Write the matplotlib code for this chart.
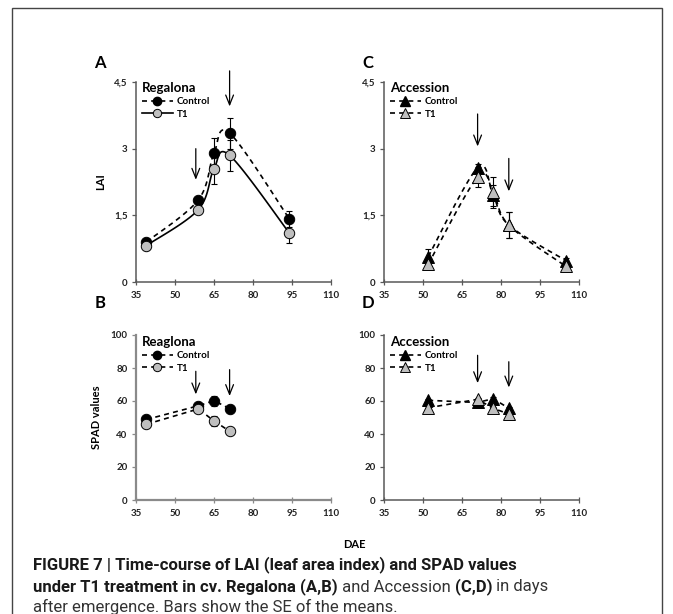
import matplotlib
matplotlib.use("Agg")
import matplotlib.pyplot as plt
import numpy as np
from matplotlib.lines import Line2D
from matplotlib.patches import Rectangle

W, H = 673, 614
DPI = 100

# ---- data -------------------------------------------------------------
# Regalona, LAI
reg_lai_dae = [39, 59, 65, 71, 94]
reg_lai_ctrl = [0.90, 1.85, 2.90, 3.35, 1.42]
reg_lai_ctrl_se = [0.06, 0.06, 0.35, 0.35, 0.18]
reg_lai_t1 = [0.82, 1.63, 2.55, 2.85, 1.10]
reg_lai_t1_se = [0.06, 0.05, 0.35, 0.35, 0.22]
reg_lai_arrows = [(58, 3.0, 2.3), (71, 4.75, 3.95)]

# Accession, LAI
acc_lai_dae = [52, 71, 77, 83, 105]
acc_lai_ctrl = [0.57, 2.57, 1.95, 1.28, 0.48]
acc_lai_ctrl_se = [0.18, 0.09, 0.24, 0.29, 0.07]
acc_lai_t1 = [0.40, 2.36, 2.02, 1.28, 0.35]
acc_lai_t1_se = [0.10, 0.23, 0.35, 0.29, 0.05]
acc_lai_arrows = [(71, 3.78, 3.05), (83, 2.78, 2.04)]

# Regalona, SPAD
reg_spad_dae = [39, 59, 65, 71]
reg_spad_ctrl = [48.8, 57.1, 60.2, 55.4]
reg_spad_ctrl_se = [1.0, 1.0, 3.0, 1.0]
reg_spad_t1 = [45.9, 55.2, 47.9, 41.7]
reg_spad_t1_se = [1.0, 1.0, 3.0, 1.0]
reg_spad_arrows = [(58, 78, 64), (71, 79, 63)]

# Accession, SPAD
acc_spad_dae = [52, 71, 77, 83]
acc_spad_ctrl = [60.4, 59.1, 61.4, 55.6]
acc_spad_ctrl_se = [1.0, 1.0, 1.0, 1.0]
acc_spad_t1 = [55.9, 61.0, 55.6, 52.1]
acc_spad_t1_se = [1.0, 1.0, 1.0, 1.0]
acc_spad_arrows = [(71, 87.7, 70.8), (83, 83.8, 68.2)]

x_ticks = [35, 50, 65, 80, 95, 110]
lai_ticks = [0, 1.5, 3, 4.5]
lai_ticklabels = ["0", "1,5", "3", "4,5"]
spad_ticks = [0, 20, 40, 60, 80, 100]

GREY = "#bfbfbf"
AXC = "#595959"
TICK_FONT = ["Lato", "DejaVu Sans"]


def smooth(x, y, n=30):
    """Catmull-Rom style smoothed polyline through the points."""
    x = np.asarray(x, float)
    y = np.asarray(y, float)
    px = np.concatenate([[x[0]], x, [x[-1]]])
    py = np.concatenate([[y[0]], y, [y[-1]]])
    xs, ys = [], []
    t = np.linspace(0, 1, n)
    for i in range(1, len(px) - 2):
        p0x, p1x, p2x, p3x = px[i - 1], px[i], px[i + 1], px[i + 2]
        p0y, p1y, p2y, p3y = py[i - 1], py[i], py[i + 1], py[i + 2]
        c1x = p1x + (p2x - p0x) / 6
        c1y = p1y + (p2y - p0y) / 6
        c2x = p2x - (p3x - p1x) / 6
        c2y = p2y - (p3y - p1y) / 6
        bx = (1 - t) ** 3 * p1x + 3 * (1 - t) ** 2 * t * c1x + 3 * (1 - t) * t ** 2 * c2x + t ** 3 * p2x
        by = (1 - t) ** 3 * p1y + 3 * (1 - t) ** 2 * t * c1y + 3 * (1 - t) * t ** 2 * c2y + t ** 3 * p2y
        xs.append(bx)
        ys.append(by)
    return np.concatenate(xs), np.concatenate(ys)


def px_axes(fig, left, right, top, bottom):
    return fig.add_axes([left / W, 1 - bottom / H, (right - left) / W, (bottom - top) / H])


def style_axes(ax, ylim, yticks, ylabels=None, spine_color=AXC, spine_w=1.1):
    ax.set_xlim(35, 110)
    ax.set_ylim(*ylim)
    for s in ("top", "right"):
        ax.spines[s].set_visible(False)
    for s in ("left", "bottom"):
        ax.spines[s].set_color(spine_color)
        ax.spines[s].set_linewidth(spine_w)
    ax.set_xticks(x_ticks)
    ax.set_yticks(yticks)
    if ylabels is not None:
        ax.set_yticklabels(ylabels)
    ax.tick_params(axis="y", direction="out", length=3, width=0.9, color=spine_color, pad=3)
    ax.tick_params(axis="x", direction="inout", length=5, width=0.9, color=spine_color, pad=4)
    for lab in ax.get_xticklabels() + ax.get_yticklabels():
        lab.set_fontfamily(TICK_FONT)
        lab.set_fontweight("bold")
        lab.set_fontsize(7)
        lab.set_color("#222222")
    ax.patch.set_alpha(0)


def series(ax, x, y, se, marker, face, ls, smooth_line):
    if smooth_line:
        sx, sy = smooth(x, y)
        ax.plot(sx, sy, ls=ls, color="black", lw=1.2, zorder=2)
    else:
        ax.plot(x, y, ls=ls, color="black", lw=1.2, zorder=2)
    ax.errorbar(x, y, yerr=se, fmt="none", ecolor="black", elinewidth=0.8,
                capsize=2.5, capthick=0.8, zorder=3)
    ax.plot(x, y, ls="none", marker=marker, ms=7.5 if marker == "o" else 8.5,
            mfc=face, mec="black", mew=0.7, zorder=4)


def arrows(ax, arr):
    for x, top, tip in arr:
        ax.annotate("", xy=(x, tip), xytext=(x, top),
                    arrowprops=dict(arrowstyle="->,head_length=0.7,head_width=0.28",
                                    lw=0.9, color="black", shrinkA=0, shrinkB=0),
                    zorder=5)


def legend(ax, title, ctrl_ls, t1_ls, marker):
    ms = 6 if marker == "o" else 6.5
    h = [Line2D([], [], ls=ctrl_ls, color="black", lw=1.2, marker=marker, ms=ms,
                mfc="black", mec="black"),
         Line2D([], [], ls=t1_ls, color="black", lw=1.2, marker=marker, ms=ms,
                mfc=GREY, mec="black", mew=0.7)]
    lg = ax.legend(h, ["Control", "T1"], loc="upper left", bbox_to_anchor=(0.0, 1.03),
                   frameon=False, handlelength=3.2, handletextpad=0.4, labelspacing=0.35,
                   borderaxespad=0.2, title=title, alignment="left",
                   prop=dict(family=TICK_FONT, weight="bold", size=7),
                   title_fontproperties=dict(family=TICK_FONT, weight="bold", size=9.5))
    return lg


fig = plt.figure(figsize=(W / DPI, H / DPI), dpi=DPI)
fig.patch.set_facecolor("white")

# outer frame
fig.patches.append(Rectangle((12 / W, -0.05), 650 / W, 1.05 - 8 / H, transform=fig.transFigure,
                             fill=False, ec="#444444", lw=1.0))

axA = px_axes(fig, 136, 331, 82, 282)
axC = px_axes(fig, 384, 579, 82, 282)
axB = px_axes(fig, 136, 331, 335, 500)
axD = px_axes(fig, 384, 579, 335, 500)

DASH = (0, (3, 2.5))

# A: Regalona LAI
series(axA, reg_lai_dae, reg_lai_ctrl, reg_lai_ctrl_se, "o", "black", DASH, True)
series(axA, reg_lai_dae, reg_lai_t1, reg_lai_t1_se, "o", GREY, "-", True)
arrows(axA, reg_lai_arrows)
style_axes(axA, (0, 4.5), lai_ticks, lai_ticklabels)
legend(axA, "Regalona", DASH, "-", "o")
axA.set_ylabel("LAI", fontfamily=TICK_FONT, fontweight="bold", fontsize=8, labelpad=6)

# C: Accession LAI
series(axC, acc_lai_dae, acc_lai_ctrl, acc_lai_ctrl_se, "^", "black", DASH, True)
series(axC, acc_lai_dae, acc_lai_t1, acc_lai_t1_se, "^", GREY, DASH, True)
arrows(axC, acc_lai_arrows)
style_axes(axC, (0, 4.5), lai_ticks, lai_ticklabels)
legend(axC, "Accession", DASH, DASH, "^")

# B: Regalona SPAD
series(axB, reg_spad_dae, reg_spad_ctrl, reg_spad_ctrl_se, "o", "black", DASH, False)
series(axB, reg_spad_dae, reg_spad_t1, reg_spad_t1_se, "o", GREY, DASH, False)
arrows(axB, reg_spad_arrows)
style_axes(axB, (0, 100), spad_ticks, spine_color="#8a8a8a", spine_w=1.6)
legend(axB, "Reaglona", DASH, DASH, "o")
axB.set_ylabel("SPAD values", fontfamily=TICK_FONT, fontweight="bold", fontsize=8, labelpad=6)

# D: Accession SPAD
series(axD, acc_spad_dae, acc_spad_ctrl, acc_spad_ctrl_se, "^", "black", DASH, False)
series(axD, acc_spad_dae, acc_spad_t1, acc_spad_t1_se, "^", GREY, DASH, False)
arrows(axD, acc_spad_arrows)
style_axes(axD, (0, 100), spad_ticks)
legend(axD, "Accession", DASH, DASH, "^")

# panel letters
for lab, (x, y) in {"A": (100, 63), "C": (368, 63), "B": (100, 303), "D": (368, 303)}.items():
    fig.text(x / W, 1 - y / H, lab, fontfamily=TICK_FONT, fontweight="bold", fontsize=12,
             ha="center", va="center")

fig.text(354 / W, 1 - 545 / H, "DAE", fontfamily=TICK_FONT, fontweight="bold", fontsize=8,
         ha="center", va="center")

# caption, with mixed bold / regular runs
CAP_FONT = ["Liberation Sans Narrow", "Roboto", "DejaVu Sans"]
cap_lines = [
    [("FIGURE 7 | Time-course of LAI (leaf area index) and SPAD values", "bold")],
    [("under T1 treatment in cv. Regalona (A,B)", "bold"), (" and Accession ", "normal"),
     ("(C,D)", "bold"), (" in days", "normal")],
    [("after emergence. Bars show the SE of the means.", "normal")],
]
cap_y = [565, 587, 607]
fig.canvas.draw()
renderer = fig.canvas.get_renderer()
for runs, y in zip(cap_lines, cap_y):
    x = 33
    for txt, wt in runs:
        t = fig.text(x / W, 1 - y / H, txt, fontfamily=CAP_FONT, fontweight=wt, fontsize=12,
                     ha="left", va="center", color="#1a1a1a" if wt == "bold" else "#333333")
        bb = t.get_window_extent(renderer)
        x += bb.width

fig.savefig("out.png", dpi=DPI)
